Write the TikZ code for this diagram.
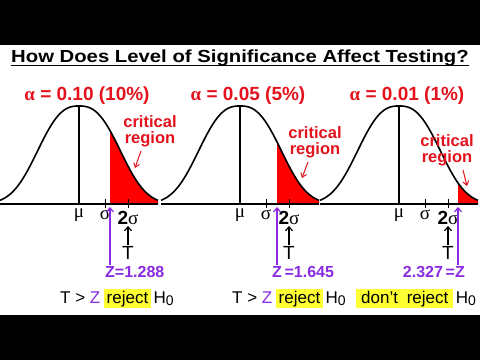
\documentclass[tikz,border=0pt]{standalone}
\usepackage{fontspec}
\setmainfont{Liberation Sans}
\newfontfamily\grk{Liberation Serif}
\usetikzlibrary{arrows.meta,positioning,calc}
\definecolor{cRedF}{HTML}{FF0000}
\definecolor{cRedT}{HTML}{E3121C}
\definecolor{cPurp}{HTML}{8A2BE2}
\definecolor{cYell}{HTML}{FFFF33}
\newcommand{\hnull}{H\raisebox{-2.5pt}{\fontsize{14}{14}\selectfont 0}}
\tikzset{
  ttl/.style    = {font=\fontsize{17.5}{20}\selectfont\bfseries, inner sep=0pt},
  alf/.style    = {cRedT, font=\fontsize{19}{22}\selectfont\bfseries, inner sep=0pt, anchor=base},
  crit/.style   = {cRedT, font=\fontsize{16.5}{16}\selectfont\bfseries, align=center, inner sep=1pt},
  grklab/.style = {font=\fontsize{19}{20}\selectfont\grk, inner sep=1pt},
  zlab/.style   = {cPurp, font=\fontsize{16}{19}\selectfont\bfseries, inner sep=1pt},
  tlab/.style   = {font=\fontsize{19}{22}\selectfont, inner sep=1pt},
  btm/.style    = {font=\fontsize{17}{20}\selectfont, inner sep=0pt},
  hilite/.style = {btm, fill=cYell, inner xsep=3pt, inner ysep=1.5pt},
  curve/.style  = {line width=1.6pt},
  redarr/.style = {cRedT, line width=1pt, -{Straight Barb[length=4pt,width=6pt]}},
  zarr/.style   = {cPurp, line width=1.2pt, -{Straight Barb[length=4pt,width=7pt]}},
  tarr/.style   = {line width=1.2pt, -{Straight Barb[length=4pt,width=7pt]}},
}

\begin{document}
\begin{tikzpicture}[x=1pt, y=1pt,
  declare function={bell(\d)=98*exp(-pow(abs(\d)/50,2.6));}]
  \useasboundingbox (0,0) rectangle (480,360);
  \fill[black] (0,0) rectangle (480,360);
  \fill[white] (0,45) rectangle (480,315);
  % title
  \node[ttl, anchor=base] (title) at (240,298) {\scalebox{1.16}[1]{How Does Level of Significance Affect Testing?}};
  \draw[line width=1.4pt] ($(title.base west)+(0,-3.5)$) -- ($(title.base east)+(0,-3.5)$);
  \node[alf] (aA) at (87,260) {{\grk α} = 0.10 (10\%)};
  \node[alf] (aB) at (248,260) {{\grk α} = 0.05 (5\%)};
  \node[alf] (aC) at (407,260) {{\grk α} = 0.01 (1\%)};
  % three bell curves with shaded tail
  \foreach \m/\c/\p in {79/31/A, 240/37/B, 399/59/C} {
    \fill[cRedF] ({\m+\c},156) -- plot[domain=\c:79, samples=30] ({\m+\x},{156+bell(\x)})
      -- ({\m+79},156) -- cycle;
    \draw[curve] plot[domain=-79:79, samples=80, smooth] ({\m+\x},{156+bell(\x)});
    \draw[curve] ({\m-79},156) -- ({\m+79},156);
    \draw[line width=1.2pt] (\m,156) -- (\m,254);
    \draw[line width=0.8pt] ({\m+26},152) -- ({\m+26},161);
    \draw[line width=0.8pt] ({\m+49},152) -- ({\m+49},161);
    \node[grklab] (mu\p) at (\m,145) {μ};
    \node[grklab] (s\p) at ({\m+26},145) {σ};
    \node[grklab] (ss\p) at ({\m+49},142) {{\normalfont\bfseries 2}σ};
    \node[tlab] (T\p) at ({\m+49},107) {T};
    \draw[tarr] (T\p) -- (ss\p);
    \coordinate (zp\p) at ({\m+\c},153);
  }
  % critical region labels
  \node[crit] (crA) at (150,229) {critical\\region};
  \node[crit] (crB) at (315,218) {critical\\region};
  \node[crit] (crC) at (447,210) {critical\\region};
  \coordinate (pA) at (135,192);
  \coordinate (pB) at (302,182);
  \coordinate (pC) at (467,174);
  \draw[redarr] ($(crA.south)+(-9,-3)$) -- (pA);
  \draw[redarr] ($(crB.south)+(-7,-3)$) -- (pB);
  \draw[redarr] ($(crC.south)+(16,-3)$) -- (pC);
  % critical values
  \node[zlab, anchor=west] (zA) at (104,88) {Z=1.288};
  \node[zlab, anchor=west] (zB) at (271,88) {Z\,=1.645};
  \node[zlab, anchor=east] (zC) at (466,88) {2.327\,=Z};
  \draw[zarr] (zA.north -| zpA) -- (zpA);
  \draw[zarr] (zB.north -| zpB) -- (zpB);
  \draw[zarr] (zC.north -| zpC) -- (zpC);
  % decisions
  \node[btm, anchor=base west] (tzA) at (60,57) {T > \textcolor{cPurp}{Z}};
  \node[hilite, base right=3pt of tzA] (rjA) {reject};
  \node[btm, base right=2pt of rjA] (hA) {\hnull};
  \node[btm, anchor=base west] (tzB) at (232,57) {T > \textcolor{cPurp}{Z}};
  \node[hilite, base right=3pt of tzB] (rjB) {reject};
  \node[btm, base right=2pt of rjB] (hB) {\hnull};
  \node[hilite, anchor=base west, inner xsep=5pt] (rjC) at (356,57) {don't\hspace{4pt} reject};
  \node[btm, base right=2pt of rjC] (hC) {\hnull};
\end{tikzpicture}
\end{document}
